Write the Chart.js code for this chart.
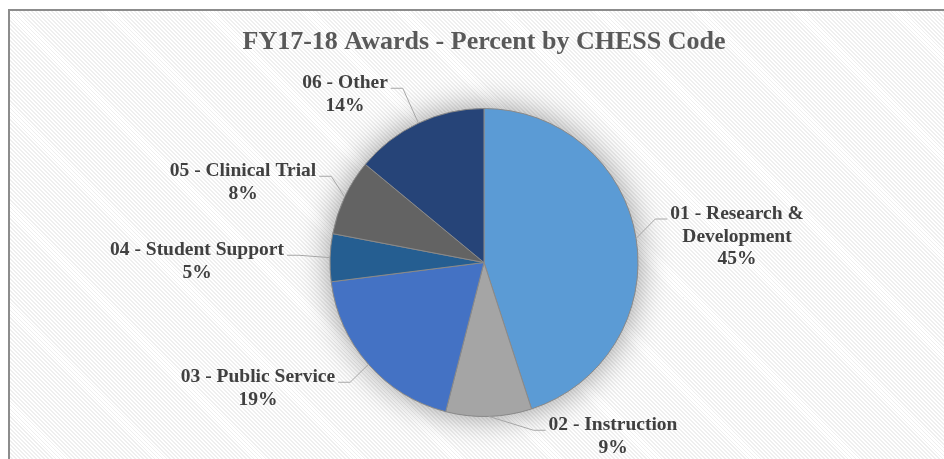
<!DOCTYPE html>
<html>
<head>
<meta charset="utf-8">
<script src="https://cdn.jsdelivr.net/npm/chart.js@4"></script>
<style>
  html, body { margin: 0; padding: 0; background: #fff; overflow: hidden; }
  #frame {
    position: absolute; left: 8px; top: 9px; width: 1000px; height: 500px;
    border: 2px solid #8c8c8c;
    background: repeating-linear-gradient(45deg, #ffffff 0 1.5px, #efefef 1.5px 2.8px);
  }
  #wrap { position: absolute; left: 0; top: 0; width: 944px; height: 459px; }
</style>
</head>
<body>
<div id="frame"></div>
<div id="wrap"><canvas id="canvas"></canvas></div>
<script>
const categories = ['01 - Research &\nDevelopment', '02 - Instruction', '03 - Public Service',
  '04 - Student Support', '05 - Clinical Trial', '06 - Other'];
const percents = [45, 9, 19, 5, 8, 14];
const colors = ['#5b9bd5', '#a5a5a5', '#4472c4', '#255e91', '#636363', '#264478'];

// label block centre, relative to the pie centre (px)
const labelOffsets = [[253, -26], [129, 174], [-226, 126], [-287, -1], [-241, -80], [-139, -168]];
const labelFont = 'bold 19.5px "Liberation Serif"';
const lineH = 22.5;

const pieDecor = {
  id: 'pieDecor',
  beforeDatasetsDraw(chart) {
    // soft glow behind the pie
    const ctx = chart.ctx;
    const p = chart.getDatasetMeta(0).data[0].getProps(['x', 'y', 'outerRadius'], true);
    ctx.save();
    ctx.shadowColor = 'rgba(0,0,0,0.4)';
    ctx.shadowBlur = 32;
    ctx.fillStyle = '#888';
    ctx.beginPath();
    ctx.arc(p.x, p.y, p.outerRadius, 0, Math.PI * 2);
    ctx.fill();
    ctx.restore();
  },
  afterDatasetsDraw(chart) {
    const ctx = chart.ctx;
    ctx.save();
    ctx.font = labelFont;
    ctx.textAlign = 'center';
    ctx.textBaseline = 'middle';
    chart.getDatasetMeta(0).data.forEach((arc, i) => {
      const p = arc.getProps(['x', 'y', 'startAngle', 'endAngle', 'outerRadius'], true);
      const mid = (p.startAngle + p.endAngle) / 2;
      const ex = p.x + Math.cos(mid) * p.outerRadius;
      const ey = p.y + Math.sin(mid) * p.outerRadius;
      const lines = categories[i].split('\n').concat(percents[i] + '%');
      const [dx, dy] = labelOffsets[i];
      const cx = p.x + dx;
      const top = p.y + dy - (lines.length - 1) * lineH / 2;
      const w = ctx.measureText(lines[0]).width;
      const right = dx > 0;
      const ax = right ? cx - w / 2 - 3 : cx + w / 2 + 3;
      const ay = top + 5;
      const bx = right ? ax - 12 : ax + 12;
      ctx.strokeStyle = '#a6a6a6';
      ctx.lineWidth = 1;
      ctx.beginPath();
      ctx.moveTo(ex, ey);
      ctx.lineTo(bx, ay);
      ctx.lineTo(ax, ay);
      ctx.stroke();
      ctx.fillStyle = '#404040';
      lines.forEach((t, k) => ctx.fillText(t, cx, top + k * lineH));
    });
    ctx.restore();
  }
};

new Chart(document.getElementById('canvas'), {
  type: 'pie',
  plugins: [pieDecor],
  data: {
    labels: categories.map(c => c.replace('\n', ' ')),
    datasets: [{
      data: percents,
      backgroundColor: colors,
      borderColor: '#8a8a8a',
      borderWidth: 1,
      hoverOffset: 0
    }]
  },
  options: {
    responsive: true,
    maintainAspectRatio: false,
    animation: false,
    layout: { padding: { left: 24, top: 0, right: 0, bottom: 42 } },
    plugins: {
      legend: { display: false },
      tooltip: { enabled: false },
      title: {
        display: true,
        text: 'FY17-18 Awards - Percent by CHESS Code',
        color: '#595959',
        font: { family: 'Liberation Serif', size: 26, weight: 'bold' },
        padding: { top: 27, bottom: 49.8 }
      }
    }
  }
});
</script>
</body>
</html>
